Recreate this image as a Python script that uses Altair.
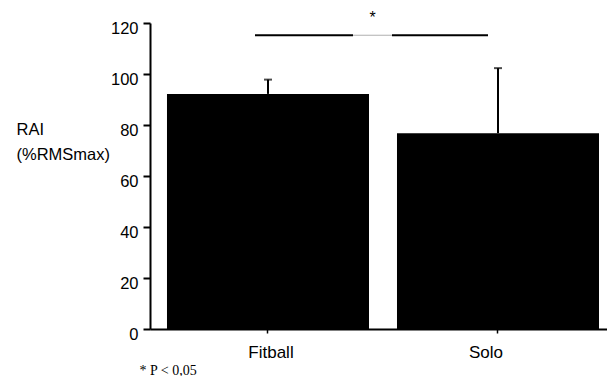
import altair as alt
import pandas as pd

categories = ["Fitball", "Solo"]
means = [92.2, 76.8]
uppers = [97.8, 102.3]
sig_level = 115.2
sig_from = "Fitball"
sig_to = "Solo"
y_ticks = [0, 10, 20, 30, 40, 50, 60, 70, 80, 90, 100, 110, 120]

df = pd.DataFrame({"cat": categories, "mean": means, "upper": uppers})
sig = pd.DataFrame({"a": [sig_from], "b": [sig_to], "y": [sig_level]})

FONT = "Liberation Sans"

xscale = alt.Scale(domain=categories, paddingInner=0.1217, paddingOuter=0.0543, align=0.68)
yscale = alt.Scale(domain=[0, 120], nice=False, zero=True)

x_enc = alt.X(
    "cat:N",
    scale=xscale,
    sort=categories,
    axis=alt.Axis(
        title="* P < 0,05",
        titleFont="Liberation Serif",
        titleFontSize=14,
        titleFontWeight="normal",
        titleColor="black",
        titleAnchor="start",
        titleAlign="left",
        titleBaseline="alphabetic",
        titleX=-11,
        titleY=45,
        labelAngle=0,
        labelFont=FONT,
        labelFontSize=17,
        labelColor="black",
        labelPadding=11,
        labelOffset={"condition": {"test": "datum.value === 'Fitball'", "value": 3}, "value": -12},
        domainColor="black",
        domainWidth=2,
        tickColor="black",
        tickSize=4,
        tickWidth=1.5,
        grid=False,
    ),
)

y_enc = alt.Y(
    "mean:Q",
    scale=yscale,
    axis=alt.Axis(
        values=y_ticks,
        labelExpr="datum.value % 20 === 0 ? datum.label : ''",
        title=["RAI", "(%RMSmax)"],
        titleAngle=0,
        titleAlign="left",
        titleBaseline="alphabetic",
        titleX=-134,
        titleY=111,
        titleFont=FONT,
        titleFontSize=16.5,
        titleFontWeight="normal",
        titleColor="black",
        titleLineHeight=25.5,
        labelFont=FONT,
        labelFontSize=16.5,
        labelColor="black",
        labelOffset=5,
        labelPadding=5,
        domainColor="black",
        domainWidth=2,
        tickColor="black",
        tickWidth=2,
        tickSize=7,
        tickDash={"condition": {"test": "datum.value % 20 !== 0", "value": [4, 20]}, "value": [20, 0]},
        grid=False,
    ),
)

bars = alt.Chart(df).mark_bar(color="black").encode(x=x_enc, y=y_enc)

whisker = alt.Chart(df).mark_rule(color="black", strokeWidth=2).encode(
    x=alt.X("cat:N", scale=xscale, sort=categories),
    y=alt.Y("mean:Q", scale=yscale),
    y2="upper:Q",
)
cap = alt.Chart(df).mark_tick(color="black", thickness=2, size=8).encode(
    x=alt.X("cat:N", scale=xscale, sort=categories),
    y=alt.Y("upper:Q", scale=yscale),
)

seg1 = alt.Chart(sig).mark_rule(color="black", strokeWidth=2, xOffset=-13, x2Offset=85).encode(
    x=alt.X("a:N", scale=xscale), x2="a:N", y=alt.Y("y:Q", scale=yscale)
)
seg2 = alt.Chart(sig).mark_rule(color="#b0b0b0", strokeWidth=1, xOffset=85, x2Offset=-106).encode(
    x=alt.X("a:N", scale=xscale), x2="b:N", y=alt.Y("y:Q", scale=yscale)
)
seg3 = alt.Chart(sig).mark_rule(color="black", strokeWidth=2, xOffset=-106, x2Offset=-10).encode(
    x=alt.X("b:N", scale=xscale), x2="b:N", y=alt.Y("y:Q", scale=yscale)
)

chart = (
    alt.layer(bars, whisker, cap, seg1, seg2, seg3)
    .properties(
        width=457,
        height=306,
        padding={"left": 142, "top": 15, "right": 0, "bottom": 47},
        autosize=alt.AutoSizeParams(type="none"),
        title=alt.TitleParams(
            text="*",
            font=FONT,
            fontSize=16,
            fontWeight="normal",
            color="black",
            anchor="middle",
            frame="group",
            dx=-6,
            offset=-6,
        ),
    )
    .configure(background="white")
    .configure_view(stroke="transparent", strokeWidth=0)
    .configure_axis(grid=False)
)

chart.save("out.html", embed_options={"renderer": "svg", "actions": False})
